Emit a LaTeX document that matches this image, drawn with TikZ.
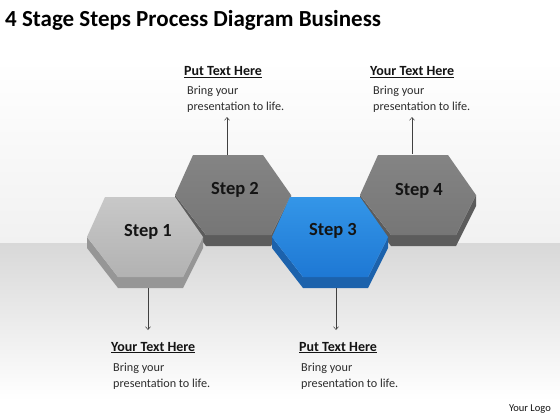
\documentclass[tikz,border=0pt]{standalone}
\usepackage{fontspec}
\setmainfont{Carlito}
\usetikzlibrary{arrows.meta}
\definecolor{bgtop}{RGB}{241,241,241}
\definecolor{bgband}{RGB}{216,216,216}
\definecolor{lgA}{RGB}{200,200,200}
\definecolor{lgB}{RGB}{178,178,178}
\definecolor{lgS}{RGB}{150,150,150}
\definecolor{dgA}{RGB}{132,132,132}
\definecolor{dgB}{RGB}{118,118,118}
\definecolor{dgS}{RGB}{92,92,92}
\definecolor{blA}{RGB}{52,150,232}
\definecolor{blB}{RGB}{30,120,212}
\definecolor{blS}{RGB}{28,98,172}
\definecolor{txt}{RGB}{20,20,20}
\definecolor{body}{RGB}{45,45,45}
\newcommand{\hexstep}[6]{%
  \begin{scope}[shift={(#2,#3)}]
    \fill[#6] (0,0) -- (31,40) -- (96,40) -- (116,0) -- (116,11) -- (96,51) -- (31,51) -- (0,11) -- cycle;
    \shade[top color=#4, bottom color=#5] (0,0) -- (18,-40) -- (88,-40) -- (116,0) -- (96,40) -- (31,40) -- cycle;
    \coordinate (#1) at (58,0);
  \end{scope}}
\tikzset{
  steplbl/.style={font=\fontsize{18.5}{20}\selectfont\bfseries, text=txt, inner sep=0},
  head/.style={font=\fontsize{14}{16}\selectfont\bfseries, text=txt, anchor=base west, inner sep=0},
  bodytext/.style={font=\fontsize{12.2}{15.5}\selectfont, text=body, anchor=north west, align=left, inner sep=0},
  conn/.style={draw=black!75, line width=0.5pt, -{Straight Barb[length=3pt,width=5pt]}}
}
\begin{document}
\begin{tikzpicture}[x=1pt,y=-1pt]
\useasboundingbox (0,0) rectangle (560,420);
% background
\shade[top color=white, bottom color=bgtop] (0,60) rectangle (560,243);
\fill[white] (0,0) rectangle (560,60);
\shade[top color=bgband, bottom color=white] (0,243) rectangle (560,400);
\fill[white] (0,400) rectangle (560,420);
% title
\node[anchor=base west, inner sep=0, font=\fontsize{23}{27}\selectfont\bfseries, text=black] (title) at (5,27) {4 Stage Steps Process Diagram Business};
% hexagons: back row first
\hexstep{h2}{175}{195}{dgA}{dgB}{dgS}
\hexstep{h4}{360}{195}{dgA}{dgB}{dgS}
\hexstep{h1}{87}{237}{lgA}{lgB}{lgS}
\hexstep{h3}{272}{237}{blA}{blB}{blS}
% labels
\node[steplbl] (s1) at (148,232) {Step 1};
\node[steplbl] (s2) at (235,190) {Step 2};
\node[steplbl] (s3) at (333,231) {Step 3};
\node[steplbl] (s4) at (419,191) {Step 4};
% arrow anchors
\coordinate (h1b) at (148,288);
\coordinate (h3b) at (336,288);
\coordinate (h2t) at (227,155);
\coordinate (h4t) at (412,154);
\coordinate (e1) at (148,330);
\coordinate (e3) at (336,330);
\coordinate (e2) at (227,117);
\coordinate (e4) at (412,117);
\draw[conn] (h1b) -- (e1);
\draw[conn] (h3b) -- (e3);
\draw[conn] (h2t) -- (e2);
\draw[conn] (h4t) -- (e4);
% text blocks
\node[head] (t2) at (184,76) {\underline{Put Text Here}};
\node[bodytext] (b2) at (187,86) {Bring your\\presentation to life.};
\node[head] (t4) at (370,76) {\underline{Your Text Here}};
\node[bodytext] (b4) at (373,86) {Bring your\\presentation to life.};
\node[head] (t1) at (111,351) {\underline{Your Text Here}};
\node[bodytext] (b1) at (113,363) {Bring your\\presentation to life.};
\node[head] (t3) at (299,351) {\underline{Put Text Here}};
\node[bodytext] (b3) at (301,363) {Bring your\\presentation to life.};
% logo
\node[anchor=base east, inner sep=0, font=\fontsize{10.5}{12}\selectfont, text=txt] (logo) at (551,411) {Your Logo};
\end{tikzpicture}
\end{document}
